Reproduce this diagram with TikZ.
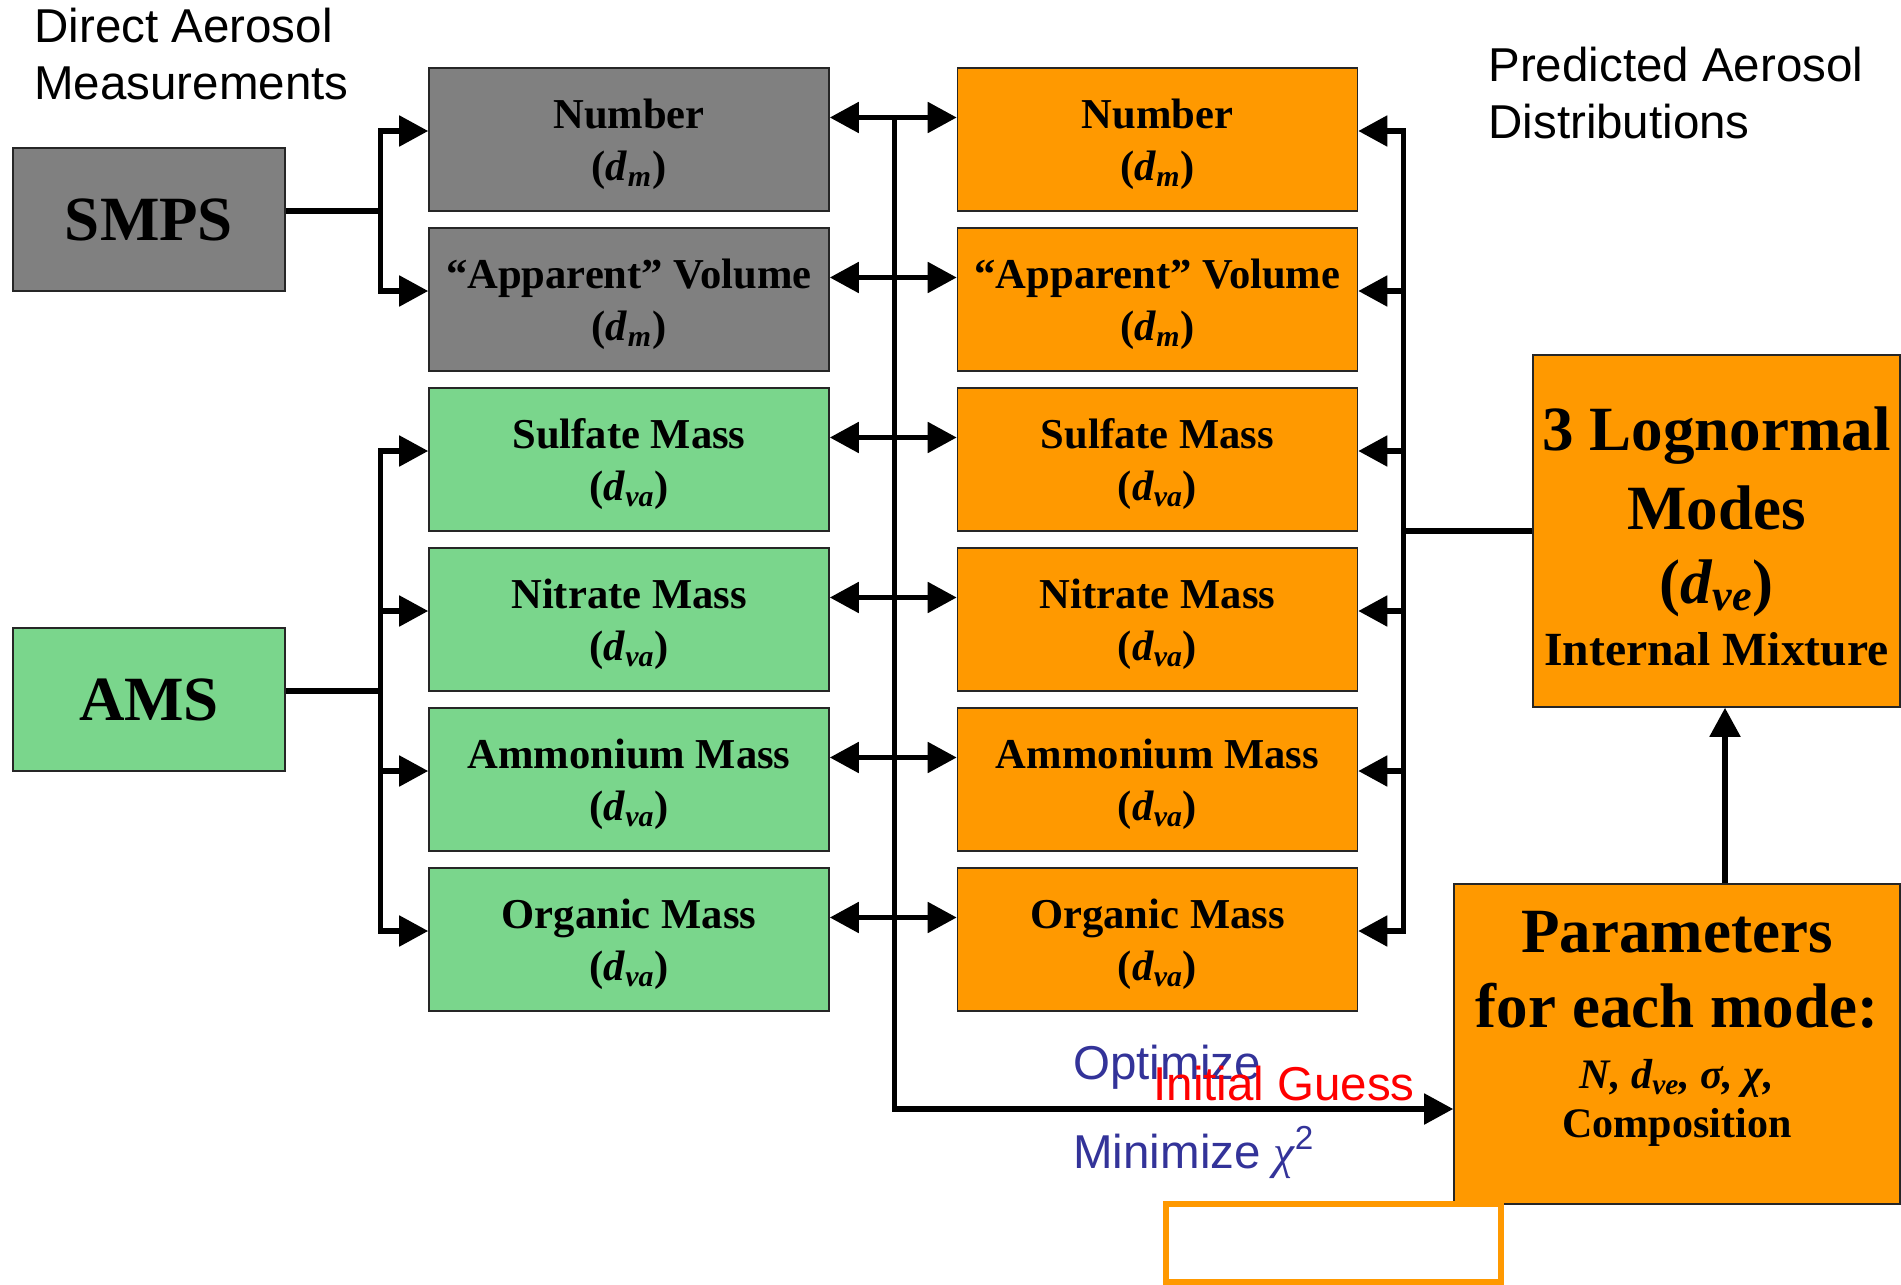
\documentclass[tikz,border=0pt]{standalone}
\usepackage{fontspec}
\setmainfont{Liberation Serif}
\setsansfont{Liberation Sans}
\usepackage{xcolor}
\usepackage{tikz}
\usetikzlibrary{arrows.meta}

\definecolor{smpsgray}{RGB}{128,128,128}
\definecolor{amsgreen}{RGB}{122,214,140}
\definecolor{fitorange}{RGB}{255,153,0}
\definecolor{optblue}{RGB}{51,51,153}

\newcommand{\dsub}[1]{(\textit{d}\textsubscript{\textit{#1}})}
\newcommand{\rowtext}[2]{\rule{0pt}{19.5pt}#1\\\dsub{#2}}

\begin{document}
\begin{tikzpicture}[x=0.5pt, y=-0.5pt,
  fitbox/.style={draw=black!85, line width=0.8pt, inner sep=0pt, align=center,
    minimum width=200pt, minimum height=71.5pt,
    font=\fontsize{21.3}{26}\selectfont\bfseries},
  instbox/.style={fitbox, minimum width=136pt, font=\fontsize{31.5}{38}\selectfont\bfseries},
  wire/.style={line width=2.6pt},
  oneway/.style={wire, -{Triangle[length=14.5pt, width=15pt]}},
  twoway/.style={wire, {Triangle[length=14.5pt, width=15pt]}-{Triangle[length=14.5pt, width=15pt]}},
  sidetext/.style={inner sep=0pt, align=left, font=\sffamily\fontsize{23.75}{28.5}\selectfont}
]
\useasboundingbox (0,0) rectangle (1901,1285);

% Instruments
\node[instbox, fill=smpsgray] (smps) at (149,219.5) {SMPS};
\node[instbox, fill=amsgreen] (ams) at (149,699.5) {AMS};

% Measured distributions
\node[fitbox, fill=smpsgray] (lnum) at (629,139.5) {\rowtext{Number}{m}};
\node[fitbox, fill=smpsgray] (lvol) at (629,299.5) {\rowtext{“Apparent” Volume}{m}};
\node[fitbox, fill=amsgreen] (lsul) at (629,459.5) {\rowtext{Sulfate Mass}{va}};
\node[fitbox, fill=amsgreen] (lnit) at (629,619.5) {\rowtext{Nitrate Mass}{va}};
\node[fitbox, fill=amsgreen] (lamm) at (629,779.5) {\rowtext{Ammonium Mass}{va}};
\node[fitbox, fill=amsgreen] (lorg) at (629,939.5) {\rowtext{Organic Mass}{va}};

% Predicted distributions
\node[fitbox, fill=fitorange] (mnum) at (1157.5,139.5) {\rowtext{Number}{m}};
\node[fitbox, fill=fitorange] (mvol) at (1157.5,299.5) {\rowtext{“Apparent” Volume}{m}};
\node[fitbox, fill=fitorange] (msul) at (1157.5,459.5) {\rowtext{Sulfate Mass}{va}};
\node[fitbox, fill=fitorange] (mnit) at (1157.5,619.5) {\rowtext{Nitrate Mass}{va}};
\node[fitbox, fill=fitorange] (mamm) at (1157.5,779.5) {\rowtext{Ammonium Mass}{va}};
\node[fitbox, fill=fitorange] (morg) at (1157.5,939.5) {\rowtext{Organic Mass}{va}};

% Modes and parameters
\node[fitbox, fill=fitorange, minimum width=183.5pt, minimum height=176pt,
  font=\fontsize{31.5}{37}\selectfont\bfseries] (modes) at (1716.5,531)
  {\rule{0pt}{27pt}3 Lognormal\\[2.5pt]Modes\\\dsub{ve}\\[-6pt]\fontsize{23.8}{28}\selectfont Internal Mixture};
\node[fitbox, fill=fitorange, minimum width=223pt, minimum height=160pt,
  font=\fontsize{31.5}{37.75}\selectfont\bfseries] (params) at (1677,1044)
  {Parameters\\for each mode:\\[-7.5pt]\fontsize{21}{25}\selectfont\itshape N, d\textsubscript{ve}, σ, χ,\\[-13.25pt]\fontsize{21}{25}\selectfont Composition\rule[-20pt]{0pt}{20pt}};
\node[draw=fitorange, line width=3pt, fill=white, minimum width=167.5pt, minimum height=39pt] (blank) at (1333.5,1243) {};

% Texts
\node[sidetext, anchor=north west] (direct) at (34,8) {Direct Aerosol\\Measurements};
\node[sidetext, anchor=north west] (predicted) at (1488,47) {Predicted Aerosol\\Distributions};
\node[sidetext, anchor=base west, text=optblue] (opt) at (1073,1079) {Optimize};
\node[sidetext, anchor=base west, text=red] (guess) at (1153,1100) {Initial Guess};
\node[sidetext, anchor=base west, text=optblue] (minchi) at (1073,1168) {Minimize {\rmfamily\itshape χ}\textsuperscript{2}};

% SMPS connections
\draw[wire] ([yshift=4.25pt]smps.east) -- ++(94.5,0) coordinate (sbus);
\draw[oneway] (sbus) |- ([yshift=4.25pt]lnum.west);
\draw[oneway] (sbus) |- ([yshift=4.25pt]lvol.west);

% AMS connections
\draw[wire] ([yshift=4.25pt]ams.east) -- ++(94.5,0) coordinate (abus);
\draw[oneway] (abus) |- ([yshift=4.25pt]lsul.west);
\draw[oneway] (abus) |- ([yshift=4.25pt]lnit.west);
\draw[oneway] (abus) |- ([yshift=4.25pt]lamm.west);
\draw[oneway] (abus) |- ([yshift=4.25pt]lorg.west);

% Comparison
\draw[twoway] ([yshift=11pt]lnum.east) -- ([yshift=11pt]mnum.west);
\draw[twoway] ([yshift=11pt]lvol.east) -- ([yshift=11pt]mvol.west);
\draw[twoway] ([yshift=11pt]lsul.east) -- ([yshift=11pt]msul.west);
\draw[twoway] ([yshift=11pt]lnit.east) -- ([yshift=11pt]mnit.west);
\draw[twoway] ([yshift=11pt]lamm.east) -- ([yshift=11pt]mamm.west);
\draw[twoway] ([yshift=11pt]lorg.east) -- ([yshift=11pt]morg.west);
\draw[oneway] ([yshift=11pt]lnum.east) ++(64.5,0) |- ([yshift=-32.5pt]params.west);

% Modes to predicted distributions
\draw[wire] (modes.west) -- ++(-128.5,0) coordinate (rbus);
\draw[oneway] (rbus) |- ([yshift=4.25pt]mnum.east);
\draw[oneway] (rbus) |- ([yshift=4.25pt]mvol.east);
\draw[oneway] (rbus) |- ([yshift=4.25pt]msul.east);
\draw[oneway] (rbus) |- ([yshift=4.25pt]mnit.east);
\draw[oneway] (rbus) |- ([yshift=4.25pt]mamm.east);
\draw[oneway] (rbus) |- ([yshift=4.25pt]morg.east);

% Parameters to modes
\draw[oneway] ([xshift=24pt]params.north) -- ([xshift=24pt]params.north |- modes.south);
\end{tikzpicture}
\end{document}
